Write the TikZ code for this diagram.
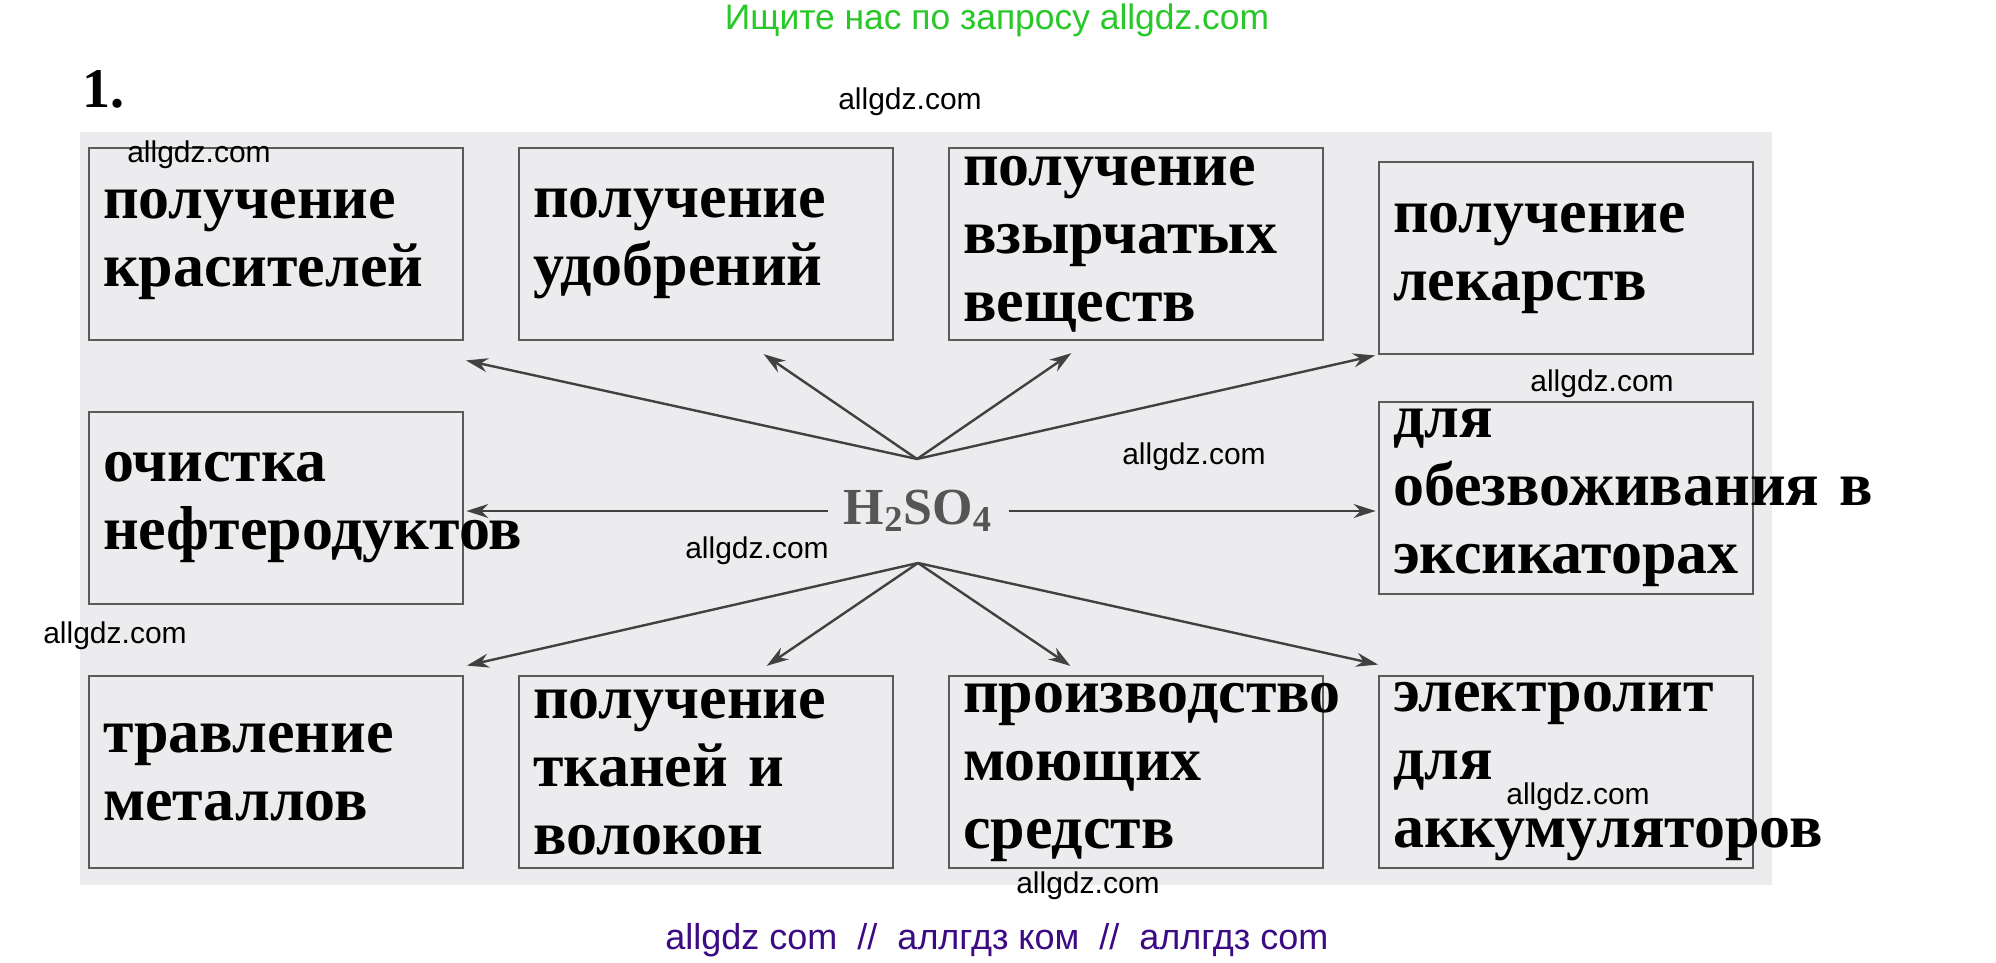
\documentclass[tikz,border=0pt]{standalone}
\usepackage{fontspec}
\setmainfont{Liberation Serif}
\setsansfont{Liberation Sans}
\usepackage{tikz}
\usepackage{xcolor}
\usetikzlibrary{arrows.meta}
\hyphenpenalty=10000
\definecolor{panelgray}{RGB}{236,236,238}
\definecolor{boxgray}{RGB}{90,90,90}
\definecolor{arrowgray}{RGB}{65,65,65}
\definecolor{acidgray}{RGB}{85,85,85}
\definecolor{adgreen}{RGB}{40,200,40}
\definecolor{adpurple}{RGB}{60,10,130}

\begin{document}
\begin{tikzpicture}[x=0.5pt,y=-0.5pt,-,>={Stealth[length=11pt,width=7pt]},shorten >=1pt,
                    node distance=215pt,
                    box node/.style={draw=boxgray,line width=1.4pt,text width=173pt,inner xsep=7pt,inner ysep=0pt,
                                     minimum height=96pt,align=left,font=\bfseries\fontsize{31}{34}\selectfont},
                    site node/.style={font=\sffamily\fontsize{15}{15}\selectfont,inner sep=0pt},
                    acid node/.style={text=acidgray,font=\bfseries\fontsize{26}{26}\selectfont,inner xsep=8pt}]

  \useasboundingbox (0,0) rectangle (1996,963);
  \fill[white] (0,0) rectangle (1996,963);
  \fill[panelgray] (80,132) rectangle (1772,885);

  \node[text=adgreen,font=\sffamily\fontsize{17.7}{18}\selectfont] (ad) at (997,20) {Ищите нас по запросу allgdz.com};
  \node[font=\bfseries\fontsize{28}{28}\selectfont] (num) at (103,89) {1.};

  \node[box node] (b1) at (276,244) {получение\\красителей};
  \node[box node] (b2) [right of=b1] {получение\\удобрений};
  \node[box node] (b3) [right of=b2] {получение\\взырчатых\\веществ};
  \node[box node] (b4) [right of=b3,yshift=-7pt] {получение\\лекарств};
  \node[box node] (b5) [below of=b1,node distance=132pt] {очистка\\нефтеродуктов};
  \node[box node] (b6) [below of=b4,node distance=120pt] {для\\обезвоживания~в\\эксикаторах};
  \node[box node] (b7) [below of=b5,node distance=132pt] {травление\\металлов};
  \node[box node] (b8) [right of=b7] {получение\\тканей и\\волокон};
  \node[box node] (b9) [right of=b8] {производство\\моющих\\средств};
  \node[box node] (b10) [right of=b9] {электролит\\для\\аккумуляторов};

  \node[acid node] (h) at (918,511) {H\textsubscript{2}SO\textsubscript{4}};
  \coordinate (up) at (917,459);
  \coordinate (dn) at (918,563);
  \coordinate (e1) at (464,360);
  \coordinate (e2) at (762,353);
  \coordinate (e3) at (1073,352);
  \coordinate (e4) at (1377,355);
  \coordinate (e7) at (465,666);
  \coordinate (e8) at (765,667);
  \coordinate (e9) at (1072,667);
  \coordinate (e10) at (1380,665);

  \path[->,color=arrowgray,line width=1.2pt]
    (up) edge (e1)
         edge (e2)
         edge (e3)
         edge (e4)
    (h.west) edge (h.west -| b5.east)
    (h.east) edge (h.east -| b6.west)
    (dn) edge (e7)
         edge (e8)
         edge (e9)
         edge (e10);

  % watermarks
  \node[site node] (w1) at (910,102) {allgdz.com};
  \node[site node] (w2) at (199,155) {allgdz.com};
  \node[site node] (w3) at (1602,384) {allgdz.com};
  \node[site node] (w4) at (1194,457) {allgdz.com};
  \node[site node] (w5) at (757,551) {allgdz.com};
  \node[site node] (w6) at (115,636) {allgdz.com};
  \node[site node] (w7) at (1578,797) {allgdz.com};
  \node[site node] (w8) at (1088,886) {allgdz.com};

  \node[text=adpurple,font=\sffamily\fontsize{18}{18}\selectfont] (foot) at (997,940)
    {allgdz com~~//~~аллгдз ком~~//~~аллгдз com};
\end{tikzpicture}
\end{document}
